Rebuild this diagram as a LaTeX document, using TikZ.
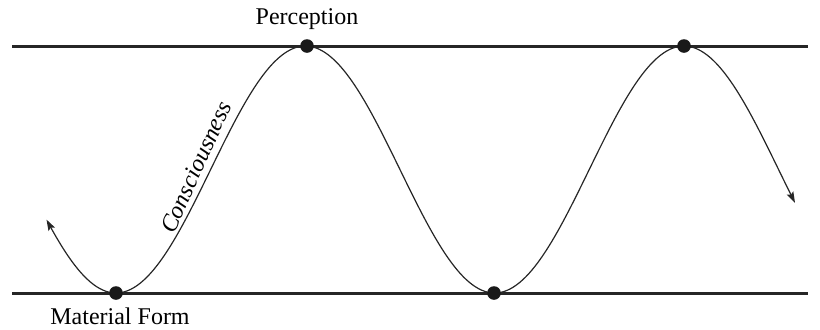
\documentclass[tikz,border=0pt]{standalone}
\usepackage{fontspec}
\setmainfont{Liberation Serif}
\newfontfamily\labelfont{Liberation Serif}
\usetikzlibrary{arrows.meta, positioning}
\tikzset{
  dot/.style={circle, fill=black!90, inner sep=0pt, minimum size=6.8pt},
  rail/.style={line width=1.5pt, black!85},
  wave/.style={line width=0.6pt, black!85,
               {Stealth[length=5.5pt, width=3.6pt, inset=1pt]}-{Stealth[length=5.5pt, width=3.6pt, inset=1pt]}},
  lbl/.style={inner sep=0pt, font=\labelfont\fontsize{12}{14}\selectfont},
}

\begin{document}
\begin{tikzpicture}[x=0.5pt, y=-0.5pt]
  \useasboundingbox (0,0) rectangle (820,329);

  % rails
  \coordinate (tl) at (12,46);
  \coordinate (tr) at (808,46);
  \coordinate (bl) at (12,293);
  \coordinate (br) at (808,293);
  \draw[rail] (tl) -- (tr);
  \draw[rail] (bl) -- (br);

  % wave
  \draw[wave] plot[domain=46.5:795, samples=240, smooth]
    (\x, {169.5+123.5*cos(0.95087*(\x-116))});

  % turning points
  \node[dot] (mf1) at (116,293) {};
  \node[dot] (pc1) at (307,46) {};
  \node[dot] (mf2) at (494,293) {};
  \node[dot] (pc2) at (684,46) {};

  % labels
  \node[lbl, above=4.5pt of pc1] (perc) {Perception};
  \node[lbl, below=3.5pt of mf1, xshift=2pt] (matf) {Material Form};
  \node[lbl, font=\labelfont\fontsize{12}{14}\selectfont\itshape, rotate=66] (cons) at (196,167) {Consciousness};
\end{tikzpicture}
\end{document}
